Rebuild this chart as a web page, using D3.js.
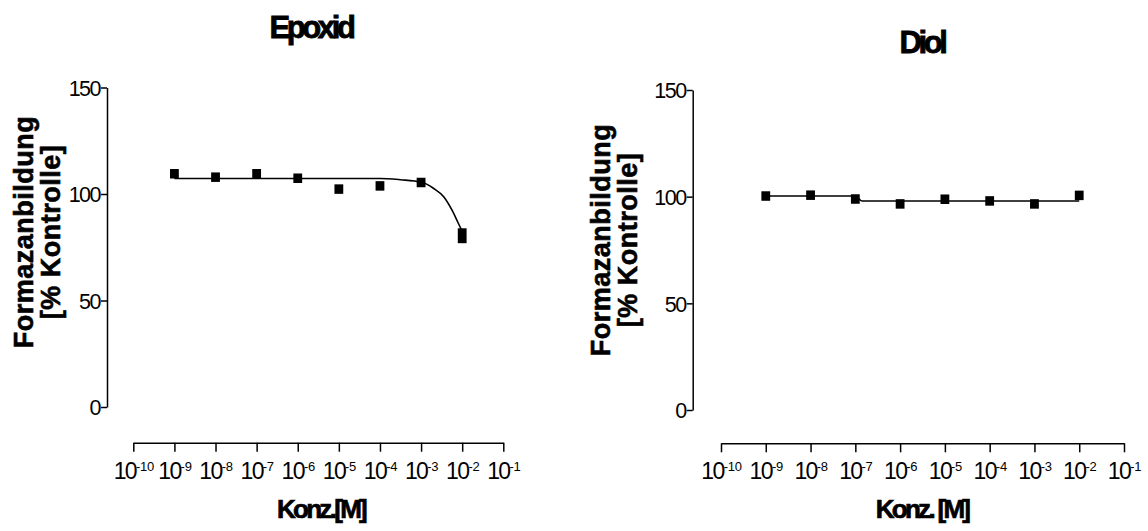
<!DOCTYPE html>
<html>
<head>
<meta charset="utf-8">
<script src="https://cdn.jsdelivr.net/npm/d3@7"></script>
<style>
  html, body { margin: 0; padding: 0; background: #fff; }
  svg { display: block; font-family: "Liberation Sans", Arial, Helvetica, sans-serif; }
</style>
</head>
<body>
<svg id="chart" width="1148" height="531"></svg>
<script>
// ---- data ----
const panelTitles = ["Epoxid", "Diol"];
const xAxisTitles = ["Konz.[M]", "Konz. [M]"];
const yAxisTitleLines = ["Formazanbildung", "[% Kontrolle]"];
const yTicks = [0, 50, 100, 150];
const xTickExponents = [-10, -9, -8, -7, -6, -5, -4, -3, -2, -1];
const xTickBase = "10";

const logConc = [-9, -8, -7, -6, -5, -4, -3, -2];
const epoxidMean = [109.5, 107.9, 109.5, 107.4, 102.3, 103.8, 105.4, 80.4];
const epoxidErr  = [0.6, 0.6, 0.6, 0.7, 0.7, 0.8, 0.8, 3.5];
const diolMean   = [100.3, 100.7, 98.9, 96.6, 98.8, 98.0, 96.6, 100.6];
const diolErr    = [0.6, 0.6, 0.6, 0.6, 0.6, 0.6, 0.6, 0.6];

// fitted curves
const epoxidFitLog = [-9, -4, -3.5, -3, -2.7, -2.45, -2.25, -2.1, -2];
const epoxidFitVal = [107.3, 107.3, 106.7, 105.6, 102.7, 98.7, 92.5, 86.5, 82.5];
const diolFitLog = [-9, -7, -6.85, -2];
const diolFitVal = [100.3, 100.3, 98.0, 98.0];

// ---- layout ----
const panels = [
  { title: panelTitles[0], xTitle: xAxisTitles[0], mean: epoxidMean, err: epoxidErr,
    fitLog: epoxidFitLog, fitVal: epoxidFitVal,
    yAxisX: 107, yBottom: 407, yTop: 87.5,
    xLeft: 133.3, xRight: 503.3, xAxisY: 442.7,
    titleX: 311, titleY: 38, xTitleX: 321, yTitleX: [33, 60], yTitleY: 232 },
  { title: panelTitles[1], xTitle: xAxisTitles[1], mean: diolMean, err: diolErr,
    fitLog: diolFitLog, fitVal: diolFitVal,
    yAxisX: 692.7, yBottom: 410, yTop: 90,
    xLeft: 721, xRight: 1124, xAxisY: 443.3,
    titleX: 922, titleY: 53, xTitleX: 922, yTitleX: [610, 637], yTitleY: 240 }
];

const svg = d3.select("#chart");

panels.forEach(p => {
  const g = svg.append("g");
  const x = d3.scaleLog().domain([1e-10, 1e-1]).range([p.xLeft, p.xRight]);
  const y = d3.scaleLinear().domain([0, 150]).range([p.yBottom, p.yTop]);

  // y axis
  const ya = g.append("g")
    .attr("transform", `translate(${p.yAxisX},0)`)
    .call(d3.axisLeft(y).tickValues(yTicks).tickSize(6).tickSizeOuter(0).tickPadding(1).tickFormat(d3.format("d")));
  ya.select(".domain").attr("stroke", "#000").attr("stroke-width", 1.5);
  ya.selectAll(".tick line").attr("stroke", "#000").attr("stroke-width", 1.5);
  ya.selectAll(".tick text")
    .attr("font-size", 21.5).attr("letter-spacing", -1.5).attr("fill", "#000")
    .attr("font-family", "'Liberation Sans', Arial, sans-serif")
    .attr("dy", "0.36em");

  // x axis
  const xa = g.append("g")
    .attr("transform", `translate(0,${p.xAxisY})`)
    .call(d3.axisBottom(x).tickValues(xTickExponents.map(e => Math.pow(10, e)))
      .tickSize(9).tickSizeOuter(0).tickPadding(10).tickFormat(() => ""));
  xa.select(".domain").attr("stroke", "#000").attr("stroke-width", 1.5);
  xa.selectAll(".tick line").attr("stroke", "#000").attr("stroke-width", 1.5);
  xa.selectAll(".tick text")
    .attr("font-family", "'Liberation Sans', Arial, sans-serif")
    .attr("fill", "#000").attr("font-size", 23).attr("letter-spacing", -1.6)
    .attr("dy", "0")
    .attr("y", 36)
    .each(function(d, i) {
      const t = d3.select(this);
      t.text(null);
      t.append("tspan").text(xTickBase);
      t.append("tspan").attr("dy", -8).attr("font-size", 13).attr("letter-spacing", -0.3).text(String(xTickExponents[i]));
    });

  // fitted curve
  const line = d3.line()
    .x((d, i) => x(Math.pow(10, p.fitLog[i])))
    .y((d) => y(d))
    .curve(d3.curveMonotoneX);
  g.append("path")
    .attr("d", line(p.fitVal))
    .attr("fill", "none").attr("stroke", "#000").attr("stroke-width", 1.6);

  // markers (with error spans)
  const mw = 8.8, mh = 9.5;
  const pts = g.append("g");
  logConc.forEach((l, i) => {
    const cx = x(Math.pow(10, l));
    const v = p.mean[i], e = p.err[i];
    const top = Math.min(y(v) - mh / 2, y(v + e));
    const bot = Math.max(y(v) + mh / 2, y(v - e));
    pts.append("rect")
      .attr("x", cx - mw / 2).attr("y", top)
      .attr("width", mw).attr("height", bot - top)
      .attr("fill", "#000");
  });

  // panel title
  g.append("text")
    .attr("x", p.titleX).attr("y", p.titleY)
    .attr("text-anchor", "middle")
    .attr("font-size", 31).attr("font-weight", "bold").attr("letter-spacing", -3.4)
    .attr("stroke", "#000").attr("stroke-width", 0.8)
    .text(p.title);

  // x title
  g.append("text")
    .attr("x", p.xTitleX).attr("y", 518)
    .attr("text-anchor", "middle")
    .attr("font-size", 26).attr("font-weight", "bold").attr("letter-spacing", -2.7)
    .attr("stroke", "#000").attr("stroke-width", 0.7)
    .text(p.xTitle);

  // y title (two lines, rotated)
  yAxisTitleLines.forEach((txt, k) => {
    g.append("text")
      .attr("transform", `translate(${p.yTitleX[k]},${p.yTitleY}) rotate(-90)`)
      .attr("text-anchor", "middle")
      .attr("font-size", 27).attr("font-weight", "bold").attr("letter-spacing", 0.5)
      .attr("stroke", "#000").attr("stroke-width", 0.6)
      .text(txt);
  });
});
</script>
</body>
</html>
